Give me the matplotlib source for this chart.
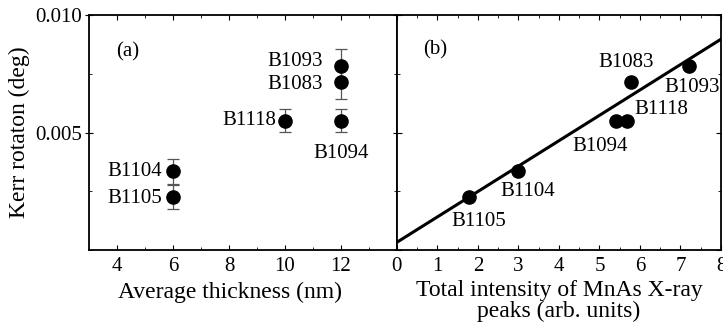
import matplotlib
matplotlib.use('Agg')
import matplotlib.pyplot as plt
from matplotlib.ticker import MultipleLocator

plt.rcParams['font.family'] = ['Liberation Serif', 'DejaVu Serif']

# --- panel (a): Kerr rotation vs average thickness ---
samples = ['B1093', 'B1083', 'B1118', 'B1094', 'B1104', 'B1105']
thickness = [12, 12, 10, 12, 6, 6]
kerr = [0.00785, 0.00717, 0.00551, 0.00551, 0.00336, 0.00226]
kerr_err = [0.0007, 0.00075, 0.0005, 0.0005, 0.00053, 0.0005]

# --- panel (b): Kerr rotation vs MnAs X-ray peak intensity ---
intensity = [7.22, 5.79, 5.69, 5.42, 2.99, 1.79]
fit_x = [0, 8]
fit_y = [0.00033, 0.00897]

# label offsets (points) for each sample, per panel
off_a = {'B1093': (-13, 3, 'right'), 'B1083': (-13, -2.5, 'right'),
         'B1118': (-6, 0, 'right'), 'B1094': (0, -24, 'center'),
         'B1104': (-8, -0.5, 'right'), 'B1105': (-8, -1, 'right')}
off_b = {'B1093': (-18, -16, 'left'), 'B1083': (-3.5, 14, 'center'),
         'B1118': (5, 8, 'left'), 'B1094': (8, -18.5, 'right'),
         'B1104': (-12.5, -15, 'left'), 'B1105': (-13, -17.5, 'left')}

fig = plt.figure(figsize=(7.23, 3.26), dpi=100)
ax1 = fig.add_axes([0.1231, 0.2331, 0.4259, 0.7209])
ax2 = fig.add_axes([0.549, 0.2331, 0.4482, 0.7209])

fs = 15
ax1.errorbar(thickness, kerr, yerr=kerr_err, fmt='o', color='black', markersize=9.5,
             ecolor='#555555', elinewidth=0.9, capsize=4.5, capthick=0.9, zorder=3)
for s, xv, yv in zip(samples, thickness, kerr):
    dx, dy, ha = off_a[s]
    ax1.annotate(s, (xv, yv), xytext=(dx, dy), textcoords='offset points',
                 ha=ha, va='center', fontsize=fs)
ax1.text(0.088, 0.843, '(a)', transform=ax1.transAxes, fontsize=fs, va='center')
ax1.set_xlim(3, 14)
ax1.set_ylim(0, 0.010)
ax1.xaxis.set_minor_locator(MultipleLocator(1))
ax1.yaxis.set_minor_locator(MultipleLocator(0.0025))
ax1.set_xticks([4, 6, 8, 10, 12])
ax1.set_yticks([0.005, 0.010])
ax1.set_yticklabels(['0.005', '0.010'])
ax1.set_xlabel('Average thickness (nm)', fontsize=17, labelpad=4)
ax1.xaxis.label.set_x(0.458)
ax1.set_ylabel('Kerr rotaton (deg)', fontsize=17, labelpad=4)
ax1.tick_params(which='both', direction='in', top=True, right=True, labelsize=fs, pad=5)
ax1.tick_params(axis='y', which='major', direction='inout', length=6, pad=2)
ax1.tick_params(which='minor', length=2.5)

ax2.plot(fit_x, fit_y, '-', color='black', linewidth=2.2, zorder=2)
ax2.plot(intensity, kerr, 'o', color='black', markersize=9.5, zorder=3)
for s, xv, yv in zip(samples, intensity, kerr):
    dx, dy, ha = off_b[s]
    ax2.annotate(s, (xv, yv), xytext=(dx, dy), textcoords='offset points',
                 ha=ha, va='center', fontsize=fs)
ax2.text(0.08, 0.851, '(b)', transform=ax2.transAxes, fontsize=fs, va='center')
ax2.set_xlim(0, 8)
ax2.set_ylim(0, 0.010)
ax2.xaxis.set_major_locator(MultipleLocator(1))
ax2.xaxis.set_minor_locator(MultipleLocator(0.5))
ax2.yaxis.set_major_locator(MultipleLocator(0.005))
ax2.yaxis.set_minor_locator(MultipleLocator(0.0025))
ax2.set_yticklabels([])
ax2.set_xlabel('Total intensity of MnAs X-ray\npeaks (arb. units)', fontsize=17,
               labelpad=3, linespacing=0.98)
ax2.tick_params(which='both', direction='in', top=True, right=True, labelsize=fs, pad=5)
ax2.tick_params(which='minor', length=2.5)

for ax in (ax1, ax2):
    for sp in ax.spines.values():
        sp.set_linewidth(1.3)

fig.savefig('out.png', dpi=100)
